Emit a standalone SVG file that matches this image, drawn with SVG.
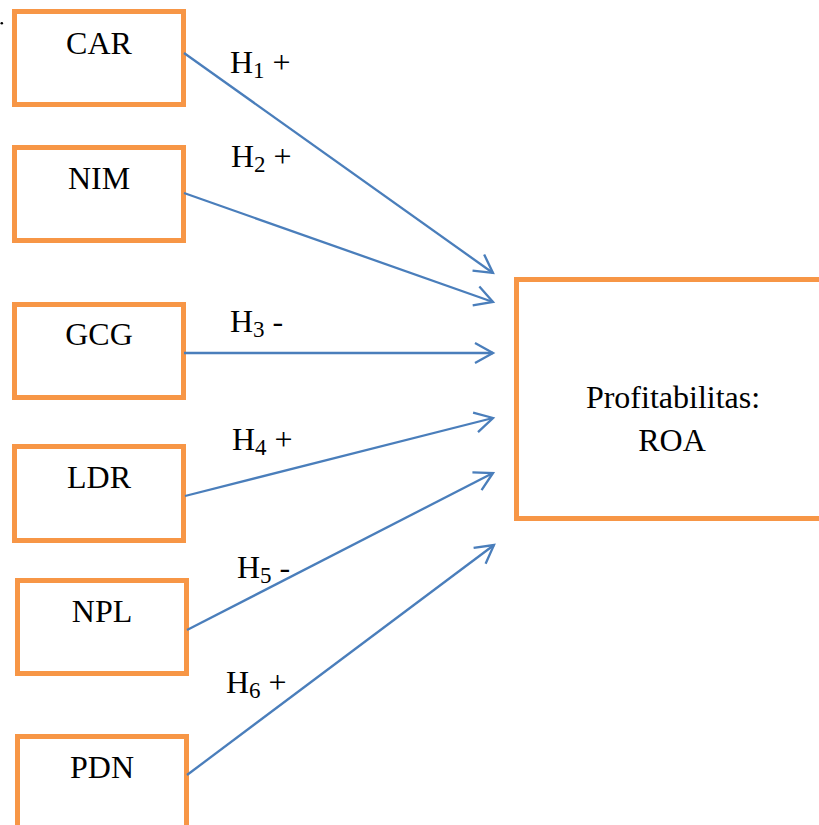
<svg xmlns="http://www.w3.org/2000/svg" width="819" height="825" viewBox="0 0 819 825">
  <style>
    .box { fill: #ffffff; stroke: #F79646; stroke-width: 5; }
    .lbl { font-size: 32px; fill: #000000; text-anchor: middle; }
    .hyp { font-size: 32px; fill: #000000; }
    .sub { font-size: 23px; }
    .conn { stroke: #4A7EBB; stroke-width: 2.3; fill: none; marker-end: url(#arr); }
  </style>
  <defs>
    <marker id="arr" markerUnits="userSpaceOnUse" markerWidth="30" markerHeight="30" viewBox="-20 -15 30 30" refX="0" refY="0" orient="auto">
      <path d="M-18,-10 L0,0 L-18,10" fill="none" stroke="#4A7EBB" stroke-width="2.3"/>
    </marker>
  </defs>
  <rect width="819" height="825" fill="#ffffff"/>
  <circle cx="1.8" cy="23.3" r="1.3" fill="#000000"/>

  <g font-family="Liberation Serif, Times New Roman, DejaVu Serif, serif">
  <g id="node-car">
    <rect class="box" x="14.5" y="11.5" width="169" height="93"/>
    <text class="lbl" x="99" y="54">CAR</text>
  </g>
  <g id="node-nim">
    <rect class="box" x="14.5" y="147.5" width="169" height="93"/>
    <text class="lbl" x="99" y="189">NIM</text>
  </g>
  <g id="node-gcg">
    <rect class="box" x="14.5" y="304.5" width="169" height="93"/>
    <text class="lbl" x="99" y="345">GCG</text>
  </g>
  <g id="node-ldr">
    <rect class="box" x="14.5" y="446.5" width="169" height="94"/>
    <text class="lbl" x="99" y="488">LDR</text>
  </g>
  <g id="node-npl">
    <rect class="box" x="17.5" y="580.5" width="169" height="93"/>
    <text class="lbl" x="102" y="622">NPL</text>
  </g>
  <g id="node-pdn">
    <rect class="box" x="17.5" y="736.5" width="169" height="93"/>
    <text class="lbl" x="102" y="778">PDN</text>
  </g>
  <g id="node-roa">
    <rect class="box" x="516.5" y="279.5" width="312" height="239"/>
    <text class="lbl" x="673" y="408" font-size="32.5">Profitabilitas:</text>
    <text class="lbl" x="672" y="451">ROA</text>
  </g>

  <g id="connectors">
    <line class="conn" x1="184" y1="53" x2="493" y2="273"/>
    <line class="conn" x1="184" y1="193" x2="493" y2="302"/>
    <line class="conn" x1="184" y1="353" x2="493" y2="353"/>
    <line class="conn" x1="185" y1="496" x2="493" y2="418"/>
    <line class="conn" x1="187" y1="630" x2="493" y2="473"/>
    <line class="conn" x1="187" y1="775" x2="494" y2="545"/>
  </g>

  <g id="labels">
    <text class="hyp" x="230" y="73">H<tspan class="sub" dy="5">1</tspan><tspan dy="-5"> +</tspan></text>
    <text class="hyp" x="231" y="167">H<tspan class="sub" dy="5">2</tspan><tspan dy="-5"> +</tspan></text>
    <text class="hyp" x="230" y="332">H<tspan class="sub" dy="5">3</tspan><tspan dy="-5"> -</tspan></text>
    <text class="hyp" x="232" y="450">H<tspan class="sub" dy="5">4</tspan><tspan dy="-5"> +</tspan></text>
    <text class="hyp" x="237" y="578">H<tspan class="sub" dy="5">5</tspan><tspan dy="-5"> -</tspan></text>
    <text class="hyp" x="226" y="693">H<tspan class="sub" dy="5">6</tspan><tspan dy="-5"> +</tspan></text>
  </g>
  </g>
</svg>
